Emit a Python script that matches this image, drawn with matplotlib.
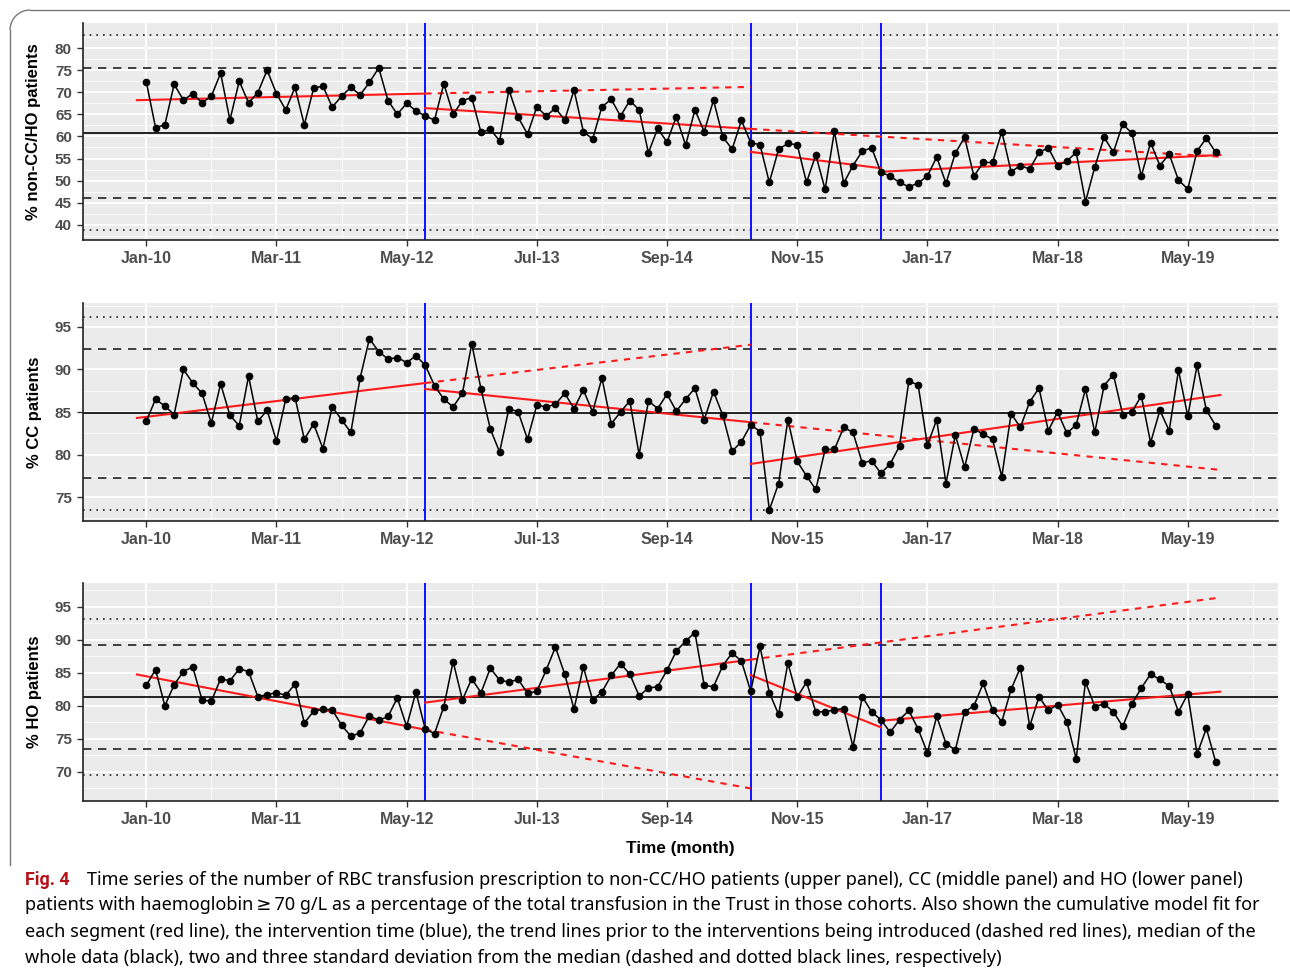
import numpy as np
import matplotlib.pyplot as plt
from matplotlib.lines import Line2D
from matplotlib.patches import Arc

# monthly data, Jan-10 .. Aug-19
months = np.arange(116)
tick_pos = [0, 14, 28, 42, 56, 70, 84, 98, 112]
tick_labels = ['Jan-10', 'Mar-11', 'May-12', 'Jul-13', 'Sep-14', 'Nov-15', 'Jan-17', 'Mar-18', 'May-19']

non_cc = [72.4, 62.0, 62.6, 71.8, 68.2, 69.7, 67.6, 69.1, 74.3, 63.7, 72.5, 67.6, 69.9, 75.0, 69.7, 66.0,
          71.1, 62.6, 70.9, 71.4, 66.6, 69.1, 71.1, 69.4, 72.2, 75.5, 68.1, 65.0,
          67.5, 65.8, 64.6, 63.7, 71.9, 65.0, 68.1, 68.8, 60.9, 61.6, 59.0, 70.5, 64.3, 60.5, 66.7, 64.6,
          66.4, 63.7, 70.5, 61.1, 59.4, 66.7, 68.4, 64.6, 68.1, 66.0, 56.3, 61.8, 58.7, 64.5, 58.0, 66.0,
          61.1, 68.2, 59.9, 57.1, 63.6, 58.6, 58.1, 49.6, 57.1, 58.4, 58.1, 49.6, 55.8, 48.0, 61.2, 49.4,
          53.4, 56.7, 57.4, 51.9, 51.0, 49.6, 48.6, 49.4, 51.1, 55.3, 49.4, 56.2, 59.8, 51.0, 54.1, 54.1, 61.1,
          52.0, 53.4, 52.6, 56.4, 57.4, 53.4, 54.4, 56.4, 45.2, 53.1, 59.8, 56.4, 62.8, 60.7, 51.0, 58.6,
          53.4, 56.0, 50.1, 48.1, 56.7, 59.6, 56.4]

cc = [83.9, 86.5, 85.7, 84.7, 90.0, 88.4, 87.2, 83.7, 88.3, 84.6, 83.4, 89.2, 83.9, 85.2, 81.6, 86.5,
      86.7, 81.8, 83.6, 80.7, 85.6, 84.1, 82.6, 89.0, 93.6, 92.1, 91.2, 91.4,
      90.8, 91.6, 90.5, 88.1, 86.5, 85.6, 87.2, 93.0, 87.7, 83.0, 80.3, 85.4, 85.0, 81.8, 85.8, 85.6,
      85.9, 87.2, 85.4, 87.6, 85.0, 89.0, 83.6, 85.0, 86.3, 80.0, 86.3, 85.4, 87.1, 85.1, 86.5, 87.8,
      84.1, 87.4, 84.6, 80.4, 81.5, 83.5, 82.7, 73.5, 76.6, 84.1, 79.2, 77.5, 75.9, 80.6, 80.6, 83.2,
      82.6, 79.0, 79.3, 77.8, 78.9, 81.0, 88.6, 88.2, 81.1, 84.1, 76.6, 82.3, 78.5, 83.0, 82.4, 81.8, 77.4,
      84.8, 83.2, 86.2, 87.8, 82.8, 85.0, 82.5, 83.5, 87.7, 82.6, 88.1, 89.4, 84.7, 85.0, 86.9, 81.4,
      85.2, 82.8, 89.9, 84.5, 90.5, 85.2, 83.4]

ho = [83.1, 85.5, 80.0, 83.2, 85.2, 85.9, 80.9, 80.7, 84.1, 83.8, 85.6, 85.2, 81.4, 81.7, 82.0, 81.6,
      83.3, 77.4, 79.2, 79.5, 79.4, 77.1, 75.4, 75.9, 78.5, 77.8, 78.4, 81.2,
      76.9, 82.1, 76.5, 75.8, 79.9, 86.7, 80.9, 84.1, 82.0, 85.7, 83.9, 83.6, 84.0, 81.9, 82.2, 85.4,
      88.9, 84.8, 79.5, 85.9, 80.9, 82.1, 84.6, 86.4, 84.8, 81.5, 82.7, 82.9, 85.4, 88.3, 89.8, 91.1,
      83.1, 82.9, 86.1, 88.0, 86.8, 82.2, 89.0, 82.0, 78.7, 86.5, 81.3, 83.6, 79.1, 79.1, 79.4, 79.6,
      73.8, 81.4, 79.1, 77.9, 76.0, 77.9, 79.3, 76.5, 72.9, 78.4, 74.3, 73.3, 79.1, 80.0, 83.4, 79.4, 77.6,
      82.5, 85.8, 76.9, 81.4, 79.3, 80.2, 77.6, 72.0, 83.6, 79.9, 80.3, 79.1, 76.9, 80.3, 82.7, 84.8,
      84.0, 83.0, 79.1, 81.8, 72.7, 76.6, 71.5]

# median, -2sd, +2sd, -3sd, +3sd
ref_non_cc = [60.8, 46.1, 75.5, 38.8, 82.9]
ref_cc = [84.85, 77.3, 92.4, 73.5, 96.2]
ref_ho = [81.3, 73.4, 89.2, 69.5, 93.2]

# intervention months
interv_non_cc = [30, 65, 79]
interv_cc = [30, 65]
interv_ho = [30, 65, 79]

# segment fits: (start month, end month, start value, end value)
fit_non_cc = [(-1, 30, 68.2, 69.7), (30, 65, 66.4, 61.7), (65, 79, 56.5, 52.8), (79, 115.5, 52.0, 55.8)]
trend_non_cc = [(30, 65, 69.7, 71.2), (65, 115.5, 61.7, 55.4)]
fit_cc = [(-1, 30, 84.3, 88.4), (30, 65, 87.7, 83.8), (65, 115.5, 78.9, 87.0)]
trend_cc = [(30, 65, 88.4, 92.9), (65, 115.5, 83.8, 78.2)]
fit_ho = [(-1, 30, 84.75, 76.4), (30, 65, 80.5, 87.0), (65, 79, 84.65, 76.75), (79, 115.5, 77.75, 82.15)]
trend_ho = [(30, 65, 76.4, 67.5), (65, 115.5, 87.0, 96.4)]

ylabels = ['% non-CC/HO patients', '% CC patients', '% HO patients']
ylims = [(36.56, 85.66), (72.2, 97.8), (65.6, 98.6)]
yticks = [np.arange(40, 81, 5), np.arange(75, 96, 5), np.arange(70, 96, 5)]

W, H = 1290, 977
fig = plt.figure(figsize=(W / 100, H / 100), dpi=100)
plt.rcParams['font.family'] = ['Liberation Sans', 'DejaVu Sans']

panels = [(23, 240), (303, 521), (583, 801)]
series = [non_cc, cc, ho]
refs = [ref_non_cc, ref_cc, ref_ho]
intervs = [interv_non_cc, interv_cc, interv_ho]
fits = [fit_non_cc, fit_cc, fit_ho]
trends = [trend_non_cc, trend_cc, trend_ho]

for i in range(3):
    top, bot = panels[i]
    ax = fig.add_axes([83 / W, 1 - bot / H, (1278 - 83) / W, (bot - top) / H])
    ax.set_facecolor('#EBEBEB')
    ax.set_xlim(-6.8, 121.7)
    ax.set_ylim(*ylims[i])
    yt = yticks[i]
    for y in np.arange(yt[0] - 2.5, yt[-1] + 5, 5):
        ax.axhline(y, color='white', lw=0.6, zorder=0)
    for y in yt:
        ax.axhline(y, color='white', lw=1.3, zorder=0)
    for x in np.arange(-7, 125, 14):
        ax.axvline(x, color='white', lw=0.6, zorder=0)
    for x in tick_pos:
        ax.axvline(x, color='white', lw=1.3, zorder=0)

    med, l2, u2, l3, u3 = refs[i]
    ax.axhline(med, color='black', lw=1.2, zorder=1)
    for v in (l2, u2):
        ax.axhline(v, color='#222222', lw=1.2, ls=(0, (5, 4)), zorder=1)
    for v in (l3, u3):
        ax.axhline(v, color='#222222', lw=1.2, ls=(0, (1, 3)), zorder=1)
    for m in intervs[i]:
        ax.axvline(m, color='#1010ff', lw=1.4, zorder=2)

    for s, e, vs, ve in fits[i]:
        ax.plot([s, e], [vs, ve], color='#ff1a1a', lw=1.5, zorder=3)
    for s, e, vs, ve in trends[i]:
        ax.plot([s, e], [vs, ve], color='#ff1a1a', lw=1.5, ls=(0, (3, 3)), zorder=3)

    ax.plot(months, series[i], color='black', lw=1.1, marker='o', ms=4.5, zorder=4)

    ax.set_xticks(tick_pos)
    ax.set_xticklabels(tick_labels, fontsize=11.5, fontweight='bold', color='#4D4D4D')
    ax.set_yticks(yt)
    ax.set_yticklabels([str(v) for v in yt], fontsize=11, fontweight='bold', color='#4D4D4D')
    ax.tick_params(length=4, width=1, color='#333333', pad=4)
    for sp in ('top', 'right'):
        ax.spines[sp].set_visible(False)
    for sp in ('left', 'bottom'):
        ax.spines[sp].set_color('#222222')
        ax.spines[sp].set_linewidth(1.2)
    ax.grid(False)
    fig.text(34 / W, 1 - (top + bot) / 2 / H, ylabels[i], rotation=90, ha='center', va='center',
             fontsize=12, fontweight='bold')

fig.text(680 / W, 1 - 848 / H, 'Time (month)', ha='center', va='center', fontsize=12.3, fontweight='bold')

# frame around the figure
fig.add_artist(Line2D([30 / W, 1.0], [1 - 10 / H, 1 - 10 / H], color='#777777', lw=1))
fig.add_artist(Line2D([10 / W, 10 / W], [1 - 30 / H, 1 - 865 / H], color='#777777', lw=1))
fig.add_artist(Arc((30 / W, 1 - 30 / H), 40 / W, 40 / H, theta1=90, theta2=180,
                   transform=fig.transFigure, color='#777777', lw=1))

cap = ['Time series of the number of RBC transfusion prescription to non-CC/HO patients (upper panel), CC (middle panel) and HO (lower panel)',
       'patients with haemoglobin\u2009\u2265\u200970 g/L as a percentage of the total transfusion in the Trust in those cohorts. Also shown the cumulative model fit for',
       'each segment (red line), the intervention time (blue), the trend lines prior to the interventions being introduced (dashed red lines), median of the',
       'whole data (black), two and three standard deviation from the median (dashed and dotted black lines, respectively)']
cap_y = [880, 905, 932, 958]
cap_fam = ['Noto Sans', 'DejaVu Sans']
fig.text(25 / W, 1 - cap_y[0] / H, 'Fig. 4', ha='left', va='center', fontsize=12.8, fontweight='bold',
         color='#b5121b', family=['Roboto', 'DejaVu Sans'])
fig.text(87 / W, 1 - cap_y[0] / H, cap[0], ha='left', va='center', fontsize=13.0, family=cap_fam)
for t, y in zip(cap[1:], cap_y[1:]):
    fig.text(25 / W, 1 - y / H, t, ha='left', va='center', fontsize=13.0, family=cap_fam)

fig.savefig('out.png', dpi=100)
